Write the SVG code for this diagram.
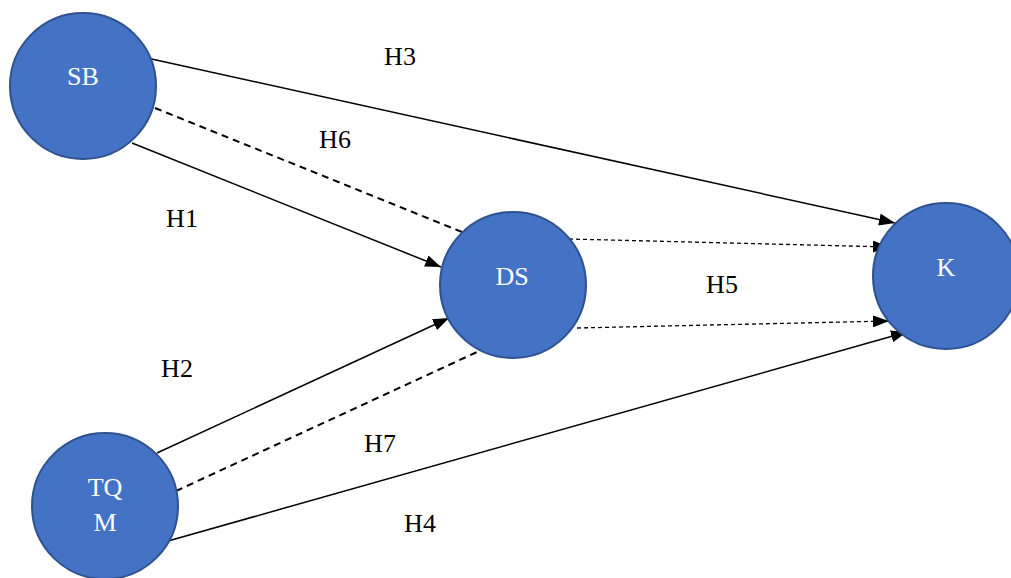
<svg xmlns="http://www.w3.org/2000/svg" width="1011" height="578" viewBox="0 0 1011 578">
  <defs>
    <marker id="arrow" viewBox="0 0 16 12" refX="16" refY="6" markerWidth="16" markerHeight="12" markerUnits="userSpaceOnUse" orient="auto">
      <path d="M0,0 L16,6 L0,12 Z" fill="#000"/>
    </marker>
    <style>
      .node { fill: #4472C4; stroke: #2F528F; stroke-width: 2; }
      .nlabel { font-family: "Liberation Serif", "Times New Roman", serif; font-size: 26px; fill: #fff; text-anchor: middle; }
      .elabel { font-family: "Liberation Serif", "Times New Roman", serif; font-size: 26px; fill: #000; text-anchor: middle; }
      .solid { stroke: #000; stroke-width: 1.5; fill: none; }
      .dash { stroke: #000; stroke-width: 2; fill: none; stroke-dasharray: 7 5; }
      .dot { stroke: #000; stroke-width: 1.3; fill: none; stroke-dasharray: 4 3; }
    </style>
  </defs>
  <rect width="1011" height="578" fill="#fff"/>

  <g id="connectors">
    <line class="solid" x1="147" y1="58" x2="895" y2="223" marker-end="url(#arrow)"/>
    <line class="dash" x1="155" y1="108" x2="462" y2="232"/>
    <line class="solid" x1="132" y1="143" x2="441" y2="267" marker-end="url(#arrow)"/>
    <line class="dot" x1="569" y1="239" x2="889" y2="247" marker-end="url(#arrow)"/>
    <line class="dot" x1="577" y1="328" x2="889" y2="321" marker-end="url(#arrow)"/>
    <line class="solid" x1="157" y1="453" x2="449" y2="318" marker-end="url(#arrow)"/>
    <line class="dash" x1="176" y1="491" x2="477" y2="352"/>
    <line class="solid" x1="168" y1="541" x2="907" y2="332" marker-end="url(#arrow)"/>
  </g>

  <g id="edge-labels">
    <text class="elabel" x="400" y="65">H3</text>
    <text class="elabel" x="335" y="148">H6</text>
    <text class="elabel" x="182" y="227">H1</text>
    <text class="elabel" x="722" y="293">H5</text>
    <text class="elabel" x="177" y="377">H2</text>
    <text class="elabel" x="380" y="452">H7</text>
    <text class="elabel" x="420" y="532">H4</text>
  </g>

  <g id="node-SB">
    <circle class="node" cx="83" cy="86" r="73"/>
    <text class="nlabel" x="83" y="85">SB</text>
  </g>
  <g id="node-DS">
    <circle class="node" cx="513" cy="285" r="73"/>
    <text class="nlabel" x="512" y="285">DS</text>
  </g>
  <g id="node-K">
    <circle class="node" cx="946" cy="276" r="73"/>
    <text class="nlabel" x="946" y="276">K</text>
  </g>
  <g id="node-TQM">
    <circle class="node" cx="105" cy="506" r="73"/>
    <text class="nlabel" x="105" y="496">TQ</text>
    <text class="nlabel" x="105" y="531">M</text>
  </g>
</svg>
